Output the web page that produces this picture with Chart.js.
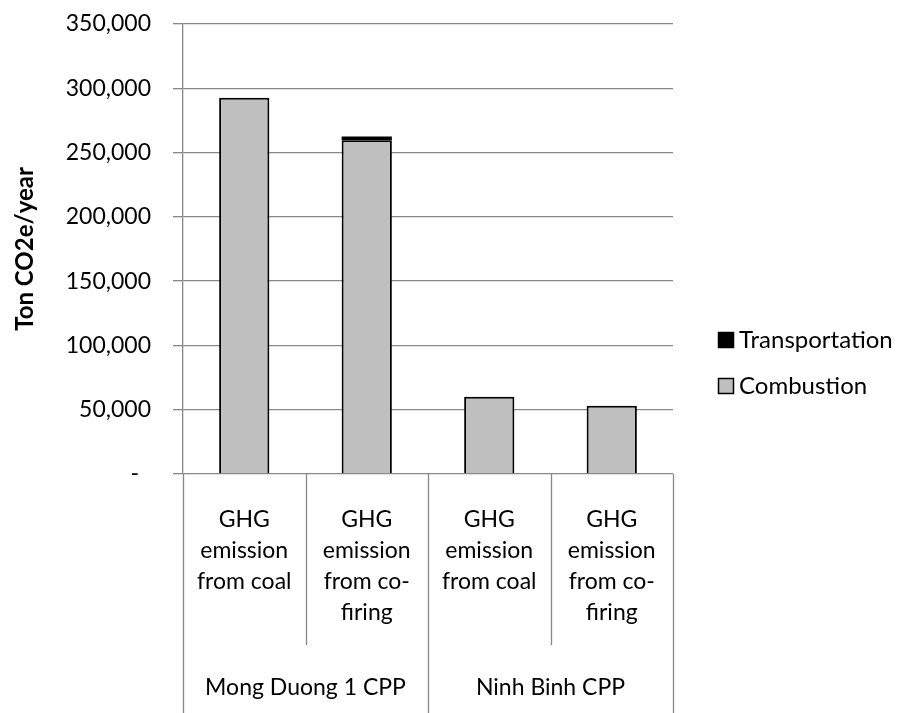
<!DOCTYPE html>
<html>
<head>
<meta charset="utf-8">
<script src="https://cdn.jsdelivr.net/npm/chart.js@4/dist/chart.umd.min.js"></script>
<style>
  html, body { margin: 0; padding: 0; background: #fff; }
  #wrap { width: 902px; height: 713px; }
</style>
</head>
<body>
<div id="wrap"><canvas id="myChart"></canvas></div>
<script>
// data
const categories = [
    ["GHG", "emission", "from coal"],
    ["GHG", "emission", "from co-", "firing"],
    ["GHG", "emission", "from coal"],
    ["GHG", "emission", "from co-", "firing"]
];
const groups = ["Mong Duong 1 CPP", "Ninh Binh CPP"];
const groupSizes = [2, 2];
const combustion = [292700, 259500, 60100, 53100];
const transportation = [0, 3000, 0, 0];

const FONT = "Lato, 'Liberation Sans', sans-serif";
const gridColor = "#878787";

// draws the second level of category labels, the divider lines, the "-" zero label and the legend
const groupAxis = {
    id: 'groupAxis',
    afterDraw(chart) {
        const ctx = chart.ctx;
        const x = chart.scales.x;
        const y = chart.scales.y;
        const area = chart.chartArea;
        const bottom = chart.height;
        const n = categories.length;
        const edges = [area.left];
        for (let i = 0; i < n - 1; i++) {
            edges.push((x.getPixelForValue(i) + x.getPixelForValue(i + 1)) / 2);
        }
        edges.push(area.right);

        const groupEdges = [0];
        let k = 0;
        groupSizes.forEach(s => { k += s; groupEdges.push(k); });

        ctx.save();
        ctx.strokeStyle = gridColor;
        ctx.lineWidth = 1.3;
        edges.forEach((ex, i) => {
            const full = groupEdges.includes(i);
            ctx.beginPath();
            ctx.moveTo(Math.round(ex) + 0.5, area.bottom);
            ctx.lineTo(Math.round(ex) + 0.5, full ? bottom : area.bottom + 171);
            ctx.stroke();
        });

        ctx.fillStyle = "#000";
        ctx.font = "23px " + FONT;
        ctx.textAlign = 'center';
        ctx.textBaseline = 'middle';
        groups.forEach((g, gi) => {
            const l = edges[groupEdges[gi]];
            const r = edges[groupEdges[gi + 1]];
            ctx.fillText(g, (l + r) / 2, area.bottom + 214);
        });

        // zero label, accounting style
        ctx.textAlign = 'right';
        ctx.fillText('-', 139, y.getPixelForValue(0));

        // legend, top item first
        const items = [
            { text: 'Transportation', fill: '#000', cy: 340 },
            { text: 'Combustion', fill: '#bfbfbf', cy: 386 }
        ];
        ctx.font = "24px " + FONT;
        ctx.textAlign = 'left';
        items.forEach(it => {
            ctx.fillStyle = it.fill;
            ctx.fillRect(718, it.cy - 8, 16, 16);
            ctx.strokeStyle = '#000';
            ctx.lineWidth = 1.5;
            ctx.strokeRect(718.5, it.cy - 7.5, 15, 15);
            ctx.fillStyle = '#000';
            ctx.fillText(it.text, 739, it.cy);
        });
        ctx.restore();
    }
};

var canvas = document.getElementById('myChart').getContext('2d');

new Chart(canvas, {
    type: 'bar',
    data: {
        labels: categories,
        datasets: [{
            label: 'Combustion',
            data: combustion,
            backgroundColor: '#bfbfbf',
            borderColor: '#000',
            borderWidth: 2,
            borderSkipped: 'bottom',
            barPercentage: 0.41,
            categoryPercentage: 1.0
        }, {
            label: 'Transportation',
            data: transportation,
            backgroundColor: '#000',
            borderColor: '#000',
            borderWidth: 0,
            barPercentage: 0.41,
            categoryPercentage: 1.0
        }]
    },
    options: {
        responsive: true,
        maintainAspectRatio: false,
        animation: false,
        layout: { padding: { top: 24, left: 0, right: 229 } },
        plugins: {
            legend: { display: false },
            title: { display: false },
            tooltip: { enabled: false }
        },
        scales: {
            x: {
                stacked: true,
                grid: { display: false },
                border: { display: false },
                ticks: {
                    color: '#000',
                    font: { family: FONT, size: 23, lineHeight: 1.35 },
                    maxRotation: 0,
                    autoSkip: false,
                    padding: 22
                },
                afterFit(scale) { scale.height = 239; }
            },
            y: {
                stacked: true,
                min: 0,
                max: 350000,
                border: { color: gridColor, width: 1.3 },
                grid: { color: gridColor, lineWidth: 1.3, tickLength: 10 },
                ticks: {
                    stepSize: 50000,
                    color: '#000',
                    font: { family: FONT, size: 23 },
                    padding: 22,
                    callback: v => v === 0 ? '' : v.toLocaleString('en-US')
                },
                title: {
                    display: true,
                    text: 'Ton CO2e/year',
                    color: '#000',
                    font: { family: FONT, size: 24, weight: 'bold' },
                    padding: { top: 11, bottom: 0 }
                },
                afterFit(scale) {
                    scale.width = 183;
                    scale.paddingTop = 0;
                    scale.paddingBottom = 0;
                }
            }
        }
    },
    plugins: [groupAxis]
});
</script>
</body>
</html>
